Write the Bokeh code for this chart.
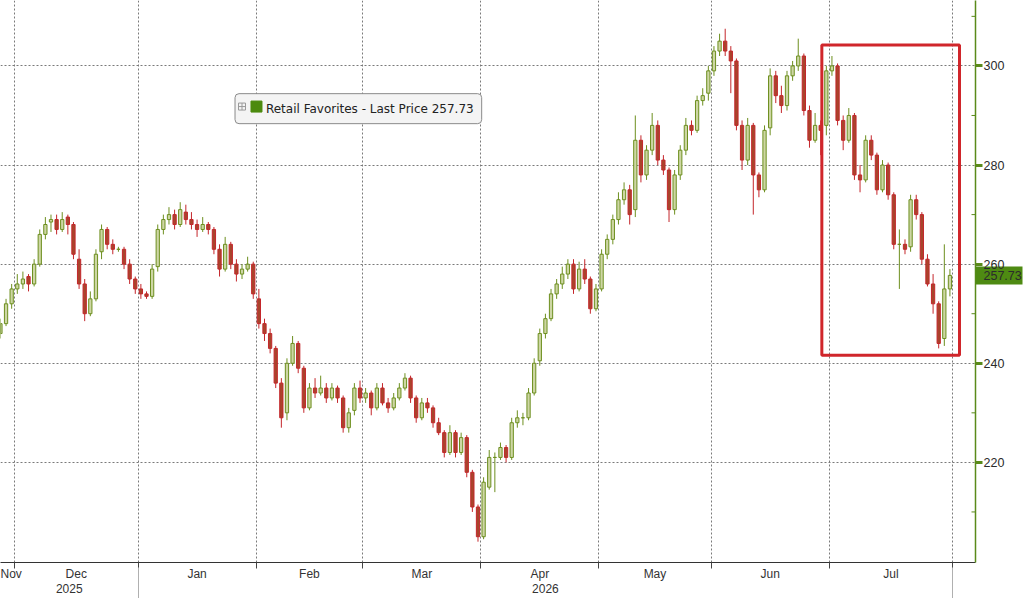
import pandas as pd
from bokeh.plotting import figure
from bokeh.models import (ColumnDataSource, FixedTicker, CustomJSTickFormatter, Label,
                          BoxAnnotation, Range1d, LinearAxis)
from bokeh.embed import file_html
from bokeh.resources import INLINE

# ---------------- data ----------------
series_name = "Retail Favorites"
last_price = 257.73
start_date = "2025-11-25"
end_date = "2026-07-31"
non_trading_days = ["2025-11-27", "2025-12-25", "2026-01-01", "2026-02-16", "2026-03-20",
                    "2026-04-03", "2026-05-25", "2026-06-19", "2026-07-03"]

opens = [246, 248, 252, 255, 256, 257.5, 256, 260, 266, 268.5,
         269, 267, 269.5, 268, 261, 256, 250, 253, 262.5, 267,
         264, 263, 263, 260, 257, 255, 254, 253.5, 259.5, 267,
         269, 270, 268, 270.5, 269, 268, 267, 268, 267, 263,
         259, 264, 260, 258, 259, 260, 253, 248, 246, 243,
         236, 230, 240, 244, 239, 231, 235, 234, 235, 233,
         235, 233, 227, 230.5, 235, 233, 234, 231, 235, 232,
         231, 233, 235, 237, 233, 229, 232, 231, 228, 226,
         222, 226, 222, 225, 218, 211, 205, 215, 221, 221,
         223, 221, 228, 229, 229, 234, 240.5, 246, 249, 254,
         256, 258, 260, 255, 259, 257, 251, 255, 262, 265,
         269, 273, 275, 271, 285, 278, 283, 288, 281, 279,
         271, 278, 283, 288, 287, 293, 294.5, 299, 303, 305,
         303, 301, 288, 281, 288, 278, 275, 287.5, 298, 294,
         292, 298, 300, 302, 291, 285, 288, 288, 299, 300,
         289, 285, 290, 278, 277, 285, 282, 275, 280, 274,
         264, 264, 263.5, 273, 270, 261, 256, 252, 245, 255]

highs = [249, 253, 256, 258, 258.5, 258, 261, 267, 269.5, 270,
         270, 270.5, 270, 268.5, 263, 257, 254.5, 263, 268, 267.5,
         265, 263.5, 263.5, 261, 257.5, 256, 254.5, 260, 268, 270,
         271.5, 271, 272.5, 272, 270.5, 269, 269.5, 268.5, 267.5, 264,
         265.5, 264.5, 261, 260, 261.5, 260.5, 255, 249, 247, 243.5,
         237, 241, 245.5, 244.5, 239.5, 236, 237, 237.5, 236, 236,
         235.5, 233.5, 231, 236, 236.5, 235, 234.5, 236, 236, 233,
         234, 236, 238, 237.5, 233.5, 233, 233, 231.5, 229, 226.5,
         227.5, 226.5, 226, 225.5, 218.5, 211.5, 217, 222.5, 222, 224,
         223.5, 229, 230.5, 230, 235, 241, 247, 250, 255, 257,
         259.5, 261, 261, 260.5, 261, 257.5, 256, 263, 266, 270,
         274.5, 276.5, 276, 290, 286, 284, 290.5, 289, 282, 279.5,
         279, 284, 289.5, 289, 294, 295.5, 300, 304, 306.5, 307.5,
         304, 301.5, 289, 289.5, 288.5, 278.5, 288, 299.5, 299, 296,
         299, 301, 305.5, 302.5, 292, 290.5, 289, 300, 302, 300.5,
         290, 291.5, 290.5, 280, 286, 286, 282.5, 281, 280.5, 274.5,
         267, 265, 274, 274, 270.5, 262, 258, 252.5, 264, 259]

lows = [245, 247.5, 251, 254, 255, 254.5, 255.5, 259.5, 265, 266.5,
        266, 266.5, 266, 261, 255, 248.5, 249.5, 252.5, 261, 263,
        262, 262.5, 259, 256, 254, 253, 253, 253, 258.5, 266,
        268, 267, 267.5, 268, 267, 265.5, 266.5, 266, 262, 257.5,
        258.5, 259, 256.5, 257, 258.5, 253, 247, 244.5, 242, 235,
        227, 228.5, 239.5, 238, 230, 230.5, 233, 233.5, 232, 232.5,
        232, 226, 226, 229.5, 232, 232, 229.5, 230.5, 231.5, 230,
        230.5, 232.5, 234.5, 232, 228, 228.5, 230, 227, 225.5, 221,
        221.5, 221, 221.5, 217, 210, 204, 204.5, 214.5, 214, 220.5,
        220, 220.5, 227, 227.5, 228.5, 233.5, 239.5, 245, 248.5, 253,
        255, 257, 254, 254.5, 256, 250, 250.5, 254.5, 261, 264,
        268, 272, 268, 269.5, 276.5, 277, 282, 280, 278, 268.5,
        270, 277, 282, 286, 286.5, 292, 293, 298, 302, 302,
        294.5, 287, 279, 280, 270, 273.5, 274.5, 286, 292.5, 290.5,
        291, 297, 299, 290, 283.5, 284.5, 282, 286, 298, 288,
        283, 284.5, 277, 274.5, 276.5, 281, 274, 274.5, 273, 263,
        255, 262, 262.5, 269, 260, 255.5, 250, 243, 243.5, 253.5]

closes = [248, 252, 255, 256, 257, 256, 260, 266, 268, 269,
          267, 269, 268, 262, 256, 250, 253, 262, 267, 264,
          263, 263, 260, 257, 255, 254, 253.5, 259, 267, 269,
          270, 268, 271, 269, 268, 267, 268, 267, 263, 259,
          264, 260, 258, 259, 260, 254, 248, 246, 243, 236,
          229, 240, 244, 239, 231, 235, 234, 235, 233, 235,
          233, 227, 230, 235, 233, 234, 231, 235, 232, 231,
          233, 235, 237, 233, 229, 232, 231, 228, 226, 222,
          226, 222, 225, 218, 211, 205, 216, 221, 221, 223,
          221, 228, 229, 229, 234, 240, 246, 249, 254, 256,
          258, 260, 255, 259, 257, 251, 255, 262, 265, 269,
          273, 275, 270, 285, 278, 283, 288, 281, 279, 271,
          278, 283, 288, 287, 293, 294, 299, 303, 305, 303,
          301, 288, 281, 288, 278, 275, 287, 298, 294, 292,
          298, 300, 302, 291, 285, 288, 287, 299, 300, 289,
          285, 290, 278, 277, 285, 282, 275, 280, 274, 264,
          264, 263, 273, 270, 261, 256, 252, 244, 255, 257.73]

month_names = {11: "Nov", 12: "Dec", 1: "Jan", 2: "Feb", 3: "Mar", 4: "Apr",
               5: "May", 6: "Jun", 7: "Jul", 8: "Aug"}
y_ticks = [220, 240, 260, 280, 300]
y_minor_ticks = [210, 230, 250, 270, 290, 310]
highlight_dates = ["2026-06-29", "2026-07-31"]
highlight_prices = [241.6, 304.2]

# ---------------- derived ----------------
dates = pd.bdate_range(start_date, end_date, freq="C", holidays=non_trading_days)
n = min(len(dates), len(closes), len(opens), len(highs), len(lows))
dates = dates[:n]
xs = list(range(n))

W, H = 1024, 598
BORDER_R = 47
BORDER_B = 31
X0, X1 = 0.013, 173.55
Y0, Y1 = 199.8, 313.2
FRAME_W = W - BORDER_R
FRAME_H = H - BORDER_B
sx = (X1 - X0) / FRAME_W
sy = (Y1 - Y0) / FRAME_H

# month boundaries (between trading days) and centres of visible month spans
bounds = [-0.5] + [i - 0.5 for i in range(1, n) if dates[i].month != dates[i - 1].month] + [n - 0.5]
month_keys = [dates[0].month] + [dates[i].month for i in range(1, n) if dates[i].month != dates[i - 1].month]
tick_pos, tick_txt = [], []
for k in range(len(bounds) - 1):
    a, b = max(bounds[k], X0), min(bounds[k + 1], X1)
    if b > a:
        tick_pos.append((a + b) / 2)
        tick_txt.append(month_names[month_keys[k]])
inner_bounds = bounds[1:]

ybounds = [-0.5] + [i - 0.5 for i in range(1, n) if dates[i].year != dates[i - 1].year] + [n - 0.5]
year_keys = [dates[0].year] + [dates[i].year for i in range(1, n) if dates[i].year != dates[i - 1].year]
for k in range(len(ybounds) - 1):
    a, b = max(ybounds[k], X0), min(ybounds[k + 1], X1)
    if b > a:
        tick_pos.append((a + b) / 2 + 0.001)
        tick_txt.append("\n" + str(year_keys[k]))

up = [i for i in xs if closes[i] >= opens[i]]
dn = [i for i in xs if closes[i] < opens[i]]

def src(idx):
    return ColumnDataSource(dict(
        x=[xs[i] for i in idx],
        hi=[highs[i] for i in idx],
        lo=[lows[i] for i in idx],
        top=[max(opens[i], closes[i]) for i in idx],
        bot=[min(opens[i], closes[i]) for i in idx],
    ))

up_src, dn_src = src(up), src(dn)

# ---------------- figure ----------------
p = figure(width=W, height=H, x_range=Range1d(X0, X1), y_range=Range1d(Y0, Y1),
           y_axis_location="right", output_backend="svg", toolbar_location=None,
           min_border_left=0, min_border_top=0, min_border_right=BORDER_R,
           min_border_bottom=BORDER_B,
           background_fill_color="white", border_fill_color="white")
p.outline_line_color = None

UP_LINE, UP_FILL = "#6d8f1f", "#cdd6a4"
DN_LINE, DN_FILL = "#c4262b", "#a8452c"
GREEN = "#5a8a1a"
TAG_GREEN = "#4e8a12"

p.segment(x0="x", y0="lo", x1="x", y1="hi", source=up_src, line_color=UP_LINE, line_width=1)
p.segment(x0="x", y0="lo", x1="x", y1="hi", source=dn_src, line_color=DN_LINE, line_width=1)
p.vbar(x="x", width=0.58, top="top", bottom="bot", source=up_src,
       fill_color=UP_FILL, line_color=UP_LINE, line_width=1)
p.vbar(x="x", width=0.58, top="top", bottom="bot", source=dn_src,
       fill_color=DN_FILL, line_color=DN_LINE, line_width=1)

# x axis: month names (first line) and years (second line), boundary ticks as minor ticks
fmt_js = """
let best = -1, d = 1e9;
for (let i = 0; i < t.length; i++) { const e = Math.abs(t[i] - tick); if (e < d) { d = e; best = i; } }
return d < 0.0005 ? l[best] : "";
"""
xa = p.xaxis[0]
xa.ticker = FixedTicker(ticks=tick_pos, minor_ticks=inner_bounds)
xa.formatter = CustomJSTickFormatter(args=dict(t=tick_pos, l=tick_txt), code=fmt_js)
xa.major_tick_in = 0
xa.major_tick_out = 0
xa.minor_tick_in = 0
xa.minor_tick_out = 6
xa.minor_tick_line_color = "#444444"
xa.axis_line_color = "#333333"
xa.major_label_standoff = -2
xa.major_label_text_font = "Liberation Sans"
xa.major_label_text_font_size = "12px"
xa.major_label_text_color = "#333333"
xa.major_label_text_line_height = 1.1

# year separators: an unlabelled axis at the bottom whose minor ticks reach up to the frame
sep = LinearAxis(ticker=FixedTicker(ticks=[], minor_ticks=ybounds[1:]))
sep.axis_line_color = None
sep.major_tick_line_color = None
sep.minor_tick_in = BORDER_B
sep.minor_tick_out = 0
sep.minor_tick_line_color = "#b0b0b0"
sep.major_label_standoff = 0
p.add_layout(sep, "below")

# right y axis; the last-price tag is a wide minor tick at the last price
yax = p.yaxis[0]
yax.ticker = FixedTicker(ticks=[last_price] + y_ticks, minor_ticks=[last_price])
yax.formatter = CustomJSTickFormatter(
    args=dict(lp=last_price),
    code="return Math.abs(tick - lp) < 1e-6 ? lp.toFixed(2) : tick.toFixed(0);")
yax.axis_line_color = GREEN
yax.axis_line_width = 1.5
yax.major_tick_line_color = GREEN
yax.major_tick_line_width = 3
yax.major_tick_in = 0
yax.major_tick_out = 7
yax.minor_tick_line_color = TAG_GREEN
yax.minor_tick_line_width = 18
yax.minor_tick_in = 0
yax.minor_tick_out = BORDER_R
yax.major_label_standoff = 8 - BORDER_R
yax.major_label_text_font = "Liberation Sans"
yax.major_label_text_font_size = "12.5px"
yax.major_label_text_color = "#2b2b2b"

# small inward minor ticks of the price axis
p.scatter([X1] * len(y_minor_ticks), y_minor_ticks, marker="dash", size=8,
          line_color=GREEN, line_width=1)

# grids
p.xgrid.ticker = FixedTicker(ticks=inner_bounds)
p.ygrid.ticker = FixedTicker(ticks=y_ticks)
for g in (p.xgrid[0], p.ygrid[0]):
    g.grid_line_color = "#7a7a7a"
    g.grid_line_dash = "2 2"
    g.grid_line_width = 1

# highlight box
pos = {d.strftime("%Y-%m-%d"): i for i, d in enumerate(dates)}
box = BoxAnnotation(left=pos[highlight_dates[0]] + 0.2, right=pos[highlight_dates[1]] + 1.7,
                    bottom=highlight_prices[0], top=highlight_prices[1],
                    fill_color=None, fill_alpha=0, line_color="#d0262b", line_alpha=1,
                    line_width=3)
p.add_layout(box)

# legend box
def fx(px):
    return X0 + px * sx

def fy(py):
    return Y1 - py * sy

nb = "\u00a0"
leg = Label(x=fx(235), y=fy(94), x_units="data", y_units="data", anchor="top_left",
            text=nb * 6 + f"{series_name} - Last Price {last_price:.2f}",
            text_font="DejaVu Sans", text_font_size="12px", text_color="#222222",
            background_fill_color="#f4f4f4", border_line_color="#8a8a8a", border_line_width=1,
            border_radius=4, padding=8)
p.add_layout(leg)
p.scatter([fx(256.5)], [fy(107)], marker="square", size=11, fill_color="#4c8a0e",
          line_color="#4c8a0e", level="overlay")
p.scatter([fx(242)], [fy(107)], marker="square_cross", size=7, fill_color=None,
          line_color="#9a9a9a", level="overlay")

open("out.html", "w").write(file_html(p, INLINE))
